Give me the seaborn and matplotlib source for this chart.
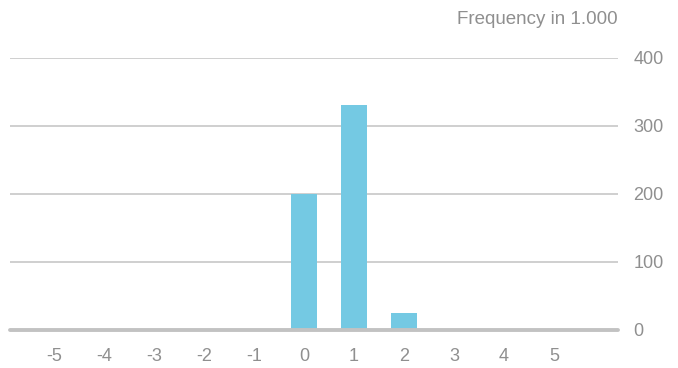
import matplotlib
matplotlib.use("Agg")
import matplotlib.pyplot as plt
import seaborn as sns
import pandas as pd

# Distribution values and their frequencies (in thousands)
values = [-5, -4, -3, -2, -1, 0, 1, 2, 3, 4, 5]
frequency = [0, 0, 0, 0, 0, 200, 331, 25, 0, 0, 0]
y_ticks = [0, 100, 200, 300, 400]
title = "Frequency in 1.000"

df = pd.DataFrame({"value": values, "frequency": frequency})

sns.set_style("white")
plt.rcParams["font.family"] = ["Liberation Sans", "DejaVu Sans"]

W, H = 678, 368
fig = plt.figure(figsize=(W / 100, H / 100), dpi=100)
ax = fig.add_axes([10 / W, (H - 330) / H, 608 / W, 272 / H])

sns.barplot(data=df, x="value", y="frequency", native_scale=True,
            color="#74c9e3", saturation=1, width=0.52, linewidth=0,
            ax=ax)

ax.set_xlim(-5.88, 6.28)
ax.set_ylim(0, 400)

for t in y_ticks[1:]:
    ax.axhline(t, color="#cccccc", lw=1.3, zorder=0)
ax.axhline(0, color="#c2c2c2", lw=2.8, zorder=3, clip_on=False)

for s in ax.spines.values():
    s.set_visible(False)

ax.set_xticks(values)
ax.set_xticklabels([str(v) for v in values])
ax.set_yticks(y_ticks)
ax.yaxis.tick_right()
ax.tick_params(axis="both", length=0, labelsize=13, labelcolor="#8f8f8f")
ax.tick_params(axis="y", pad=11)
ax.tick_params(axis="x", pad=13)
ax.set_xlabel("")
ax.set_ylabel("")

fig.text(618 / W, 1 - 19 / H, title, ha="right", va="center",
         fontsize=13.5, color="#8f8f8f")

fig.savefig("out.png", dpi=100, facecolor="white")
